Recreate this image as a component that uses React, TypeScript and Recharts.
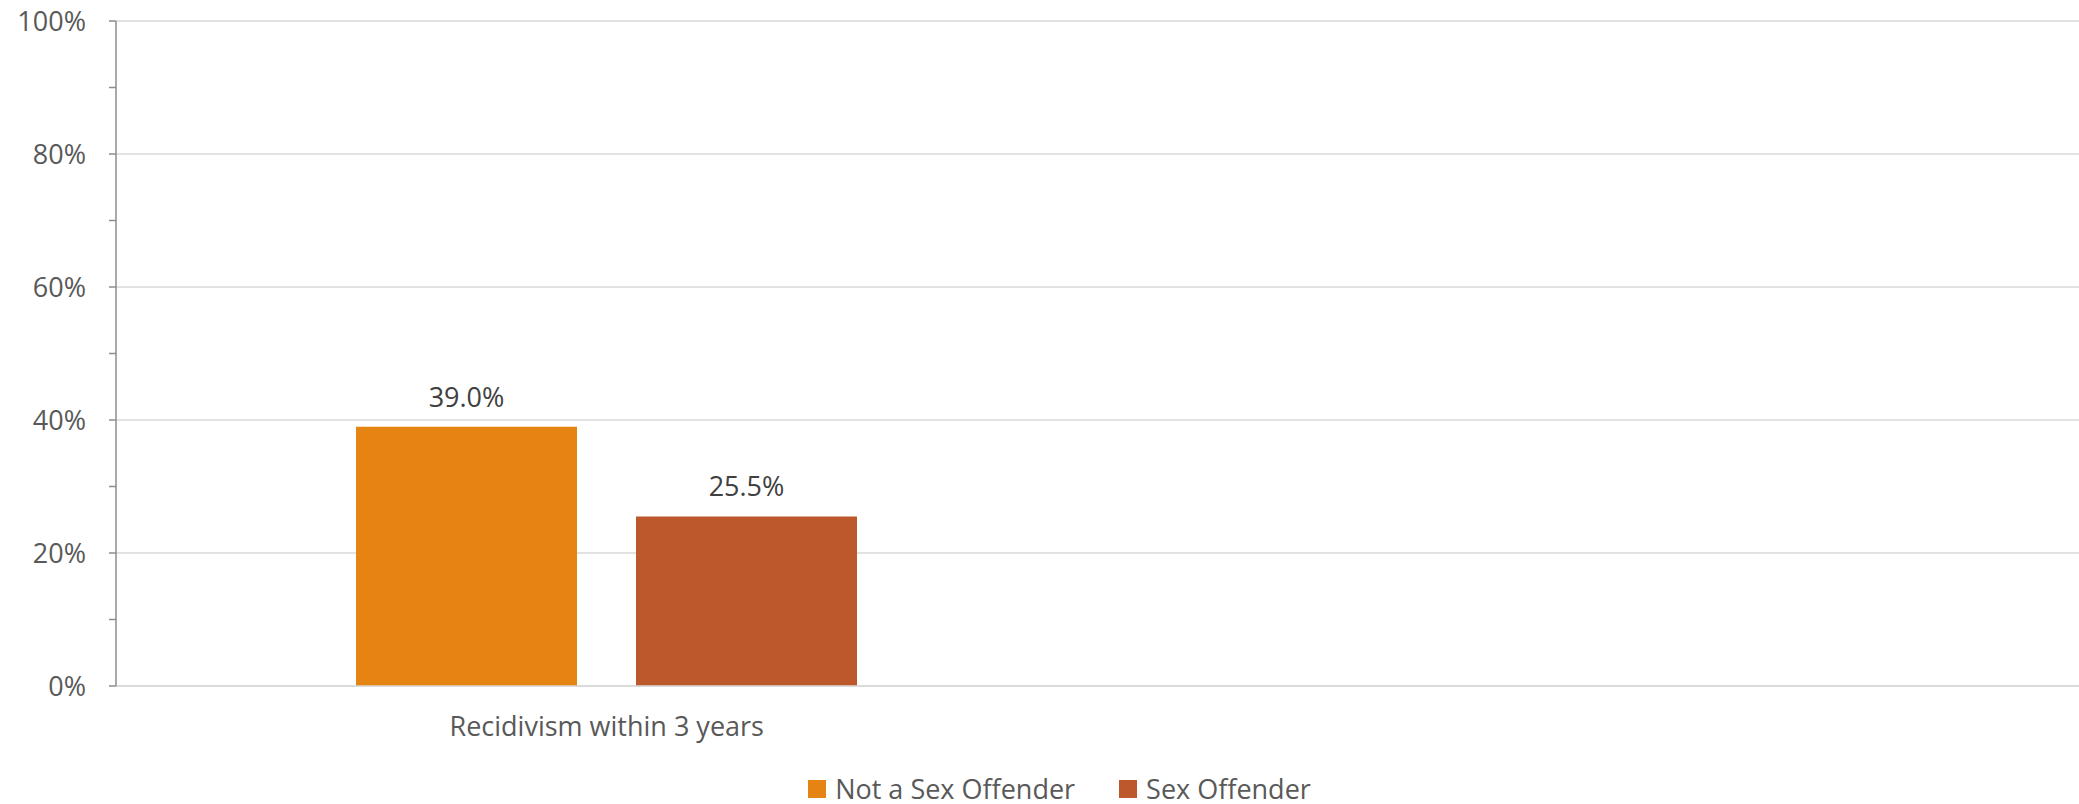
import React from 'react';
import { BarChart, Bar, XAxis, YAxis, CartesianGrid, Legend, LabelList } from 'recharts';

// Color constants
const COLORS = {
  notSex: '#e58313',
  sex: '#bd582c',
  grid: '#d9d9d9',
  axis: '#8c8c8c',
  tickText: '#595959',
  valueText: '#404040',
};

const FONT = '"Open Sans", sans-serif';

// categories (second slot is empty in the original)
const categories = ['Recidivism within 3 years', ''];
const notSexOffender = [39.0, null];
const sexOffender = [25.5, null];
const yTicks = [0, 10, 20, 30, 40, 50, 60, 70, 80, 90, 100];
const gridValues = [0, 20, 40, 60, 80, 100];
const seriesNames = ['Not a Sex Offender', 'Sex Offender'];

const data = categories.map((name, i) => ({
  name,
  notSex: notSexOffender[i],
  sex: sexOffender[i],
}));

const pctLabel = (v: any) => (v == null ? '' : `${Number(v).toFixed(1)}%`);

const LegendContent = () => {
  const items = [
    { name: seriesNames[0], color: COLORS.notSex },
    { name: seriesNames[1], color: COLORS.sex },
  ];
  return (
    <div
      style={{
        display: 'flex',
        justifyContent: 'center',
        alignItems: 'center',
        height: 30,
        paddingLeft: 40,
        fontFamily: FONT,
        fontSize: 27,
        lineHeight: '30px',
        color: COLORS.tickText,
      }}
    >
      {items.map((it, i) => (
        <div key={it.name} style={{ display: 'flex', alignItems: 'center', marginLeft: i === 0 ? 0 : 44 }}>
          <span style={{ width: 18, height: 18, backgroundColor: it.color, display: 'inline-block', marginRight: 9 }} />
          <span>{it.name}</span>
        </div>
      ))}
    </div>
  );
};

const App: React.FC = () => {
  return (
    <div style={{ position: 'absolute', left: 0, top: 0, width: 2079, height: 804, background: '#fff' }}>
      <BarChart
        width={2079}
        height={804}
        data={data}
        margin={{ top: 21, right: 0, left: 0, bottom: 0 }}
        barGap={59}
        style={{ fontFamily: FONT }}
      >
        <CartesianGrid
          vertical={false}
          stroke={COLORS.grid}
          strokeWidth={1.5}
          horizontalValues={gridValues}
        />
        <XAxis
          dataKey="name"
          height={88}
          tickLine={false}
          tickSize={6}
          tickMargin={25}
          axisLine={{ stroke: COLORS.grid, strokeWidth: 1.5 }}
          tick={{ fill: COLORS.tickText, fontSize: 27, fontFamily: FONT }}
          interval={0}
        />
        <YAxis
          width={116}
          domain={[0, 100]}
          ticks={yTicks}
          interval={0}
          tickSize={7}
          tickMargin={23}
          tickFormatter={(v: number) => (v % 20 === 0 ? `${v}%` : '')}
          axisLine={{ stroke: COLORS.axis, strokeWidth: 1.5 }}
          tickLine={{ stroke: COLORS.axis, strokeWidth: 1.5 }}
          tick={{ fill: COLORS.tickText, fontSize: 27, fontFamily: FONT }}
        />
        <Legend verticalAlign="bottom" align="center" height={30} content={<LegendContent />} />
        <Bar dataKey="notSex" name={seriesNames[0]} fill={COLORS.notSex} barSize={221} isAnimationActive={false}>
          <LabelList
            dataKey="notSex"
            position="top"
            offset={20}
            formatter={pctLabel}
            style={{ fill: COLORS.valueText, fontSize: 27, fontFamily: FONT }}
          />
        </Bar>
        <Bar dataKey="sex" name={seriesNames[1]} fill={COLORS.sex} barSize={221} isAnimationActive={false}>
          <LabelList
            dataKey="sex"
            position="top"
            offset={20}
            formatter={pctLabel}
            style={{ fill: COLORS.valueText, fontSize: 27, fontFamily: FONT }}
          />
        </Bar>
      </BarChart>
    </div>
  );
};

export default App;
